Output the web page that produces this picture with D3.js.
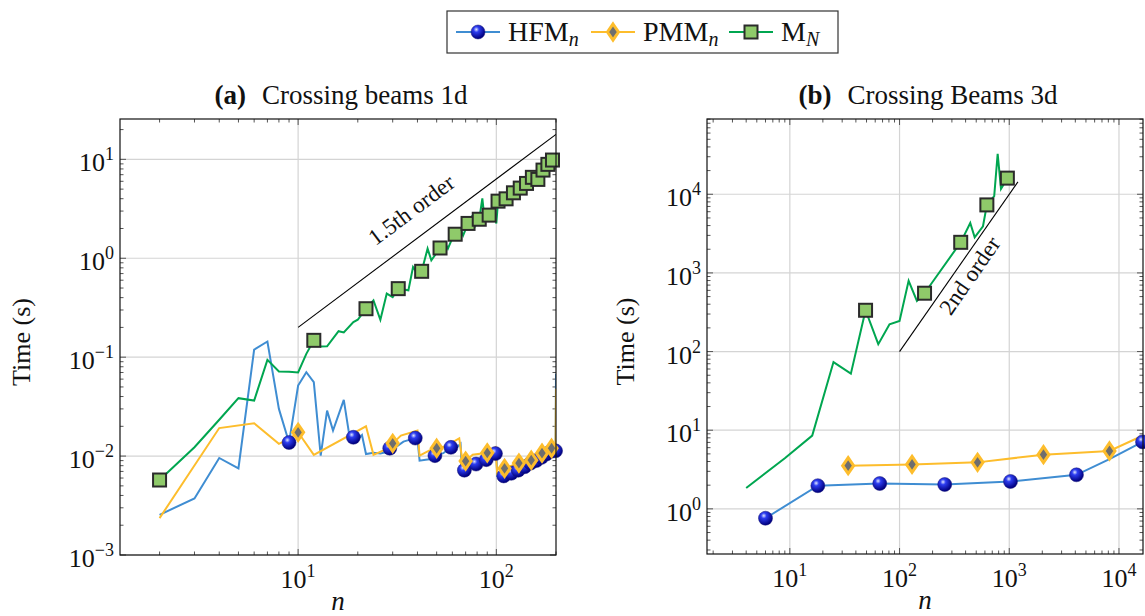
<!DOCTYPE html>
<html>
<head>
<meta charset="utf-8">
<script src="https://cdn.jsdelivr.net/npm/d3@7"></script>
<style>
body{margin:0;background:#fff;}
text{font-family:"Liberation Serif","DejaVu Serif",serif;fill:#111;}
</style>
</head>
<body>
<div id="chart"></div>
<script>
// panel (a): crossing beams 1d  [n, time in s]
var hfmA = [[2,0.00255],[3,0.00373],[4,0.00957],[5,0.0075],[6,0.119],[7,0.144],[8,0.030],[9,0.0137],
  [10,0.0516],[11,0.0705],[12,0.0558],[13,0.0101],[14,0.0288],[15,0.0181],[17,0.037],[18,0.0178],
  [19,0.0155],[20,0.0147],[21,0.0163],[22,0.0105],[24,0.0108],[26,0.0106],[28,0.0110],[29,0.0120],
  [31,0.0123],[34,0.0140],[36,0.0145],[39,0.0152],[40,0.0150],[41,0.0090],[44,0.0092],[46,0.0093],
  [49,0.0101],[54,0.0107],[59,0.01225],[62,0.0118],[66,0.0133],[67,0.0073],[69,0.0072],[79,0.0083],
  [89,0.0092],[99,0.0106],[100,0.0110],[101,0.0063],[109,0.0063],[119,0.0067],[129,0.0072],[139,0.0078],
  [149,0.0085],[159,0.0090],[169,0.0097],[179,0.0105],[189,0.0112],[199,0.0113],[200,0.068]];
var pmmA = [[2,0.00236],[4,0.0192],[6,0.0215],[8,0.0133],[9,0.0149],[10,0.0174],[12,0.0103],[22,0.020],
  [24,0.0103],[28,0.0118],[30,0.01345],[33,0.0161],[40,0.0181],[41,0.0101],[46,0.0114],[50,0.0120],
  [55,0.0125],[65,0.0151],[67,0.0098],[70,0.0089],[76,0.0103],[90,0.0108],[99,0.01225],[101,0.0066],
  [110,0.0075],[130,0.0085],[150,0.0091],[170,0.0107],[190,0.0120],[199,0.0124],[200,0.048]];
var mnA = [[2,0.00573],[3,0.0123],[4,0.0233],[5,0.0385],[6,0.0364],[7,0.094],[8,0.0716],[9,0.0714],
  [10,0.070],[11,0.108],[12,0.148],[13,0.128],[14,0.129],[16,0.183],[17,0.178],[19,0.226],[20,0.239],
  [22,0.309],[24,0.375],[26,0.239],[28,0.44],[30,0.405],[32,0.493],[36,0.474],[38,0.817],[40,0.70],
  [42,0.738],[45,1.25],[47,0.955],[52,1.27],[55,1.45],[57,1.25],[60,1.6],[62,1.75],[66,1.95],[68,1.7],
  [72,2.25],[75,2.6],[78,2.1],[82,2.48],[85,4.03],[87,2.6],[92,2.73],[96,3.4],[100,2.25],[102,3.78],
  [106,3.4],[112,3.99],[117,4.7],[122,4.59],[127,4.4],[132,5.12],[137,5.5],[142,5.71],[147,6.4],
  [152,6.58],[157,7.2],[162,6.27],[167,7.5],[172,7.79],[177,8.2],[182,8.9],[187,9.3],[192,9.84],[200,10.3]];
var orderA = [[10,0.2],[200,17.9]];

// panel (b): crossing beams 3d
var hfmB = [[6,0.76],[18,1.97],[66,2.1],[258,2.04],[1026,2.23],[4098,2.71],[8194,4.3],[16386,7.1]];
var pmmB = [[34,3.54],[130,3.67],[514,3.9],[2050,4.89],[8194,5.44],[16386,8.5]];
var mnB = [[4,1.84],[9,4.4],[16,8.53],[25,73.5],[36,52.3],[49,335],[64,124],[81,222],[100,245],
  [121,793],[144,441],[169,552],[361,2449],[441,4315],[484,2838],[576,3918],[625,7324],[729,9460],
  [784,32700],[841,11720],[961,16040]];
var orderB = [[100,100],[1200,14400]];

var xTicksA = [10,100], yTicksA = [1e-3,1e-2,1e-1,1,10];
var xTicksB = [10,100,1e3,1e4], yTicksB = [1,10,100,1e3,1e4];

var blue = '#3f8dd2', yellow = '#fdbd2c', green = '#00a650';

var svg = d3.select('#chart').append('svg')
  .attr('width',1145).attr('height',616);

var defs = svg.append('defs');
var grad = defs.append('radialGradient').attr('id','ball')
  .attr('cx','38%').attr('cy','32%').attr('r','65%');
grad.append('stop').attr('offset','0%').attr('stop-color','#dfe6ff');
grad.append('stop').attr('offset','30%').attr('stop-color','#2d3df0');
grad.append('stop').attr('offset','100%').attr('stop-color','#000080');

function sup(sel, exp){
  sel.append('tspan').text('10');
  sel.append('tspan').attr('dy',-11).attr('font-size',18).text(exp < 0 ? '\u2212' + (-exp) : exp);
}

function marker(g, kind, x, y){
  if (kind === 'ball') {
    g.append('circle').attr('cx',x).attr('cy',y).attr('r',7)
      .attr('fill','url(#ball)').attr('stroke','#1a1a7a').attr('stroke-width',0.5);
  } else if (kind === 'diamond') {
    g.append('path').attr('d','M'+x+','+(y-8)+'L'+(x+5.5)+','+y+'L'+x+','+(y+8)+'L'+(x-5.5)+','+y+'Z')
      .attr('fill','#6e6e6e').attr('stroke',yellow).attr('stroke-width',3);
  } else {
    g.append('rect').attr('x',x-6.5).attr('y',y-6.5).attr('width',13).attr('height',13)
      .attr('fill','#8fca6a').attr('stroke','#2b2b2b').attr('stroke-width',2);
  }
}

function minors(dom){
  var out = [];
  for (var e = Math.floor(Math.log10(dom[0])); e <= Math.ceil(Math.log10(dom[1])); e++)
    for (var k = 1; k < 10; k++) {
      var v = k * Math.pow(10,e);
      if (v >= dom[0] && v <= dom[1]) out.push(v);
    }
  return out;
}

function panel(p){
  var x = d3.scaleLog().domain(p.xdom).range([p.x0,p.x1]);
  var y = d3.scaleLog().domain(p.ydom).range([p.y1,p.y0]);
  var g = svg.append('g');
  defs.append('clipPath').attr('id','clip'+p.id).append('rect')
    .attr('x',p.x0).attr('y',p.y0).attr('width',p.x1-p.x0).attr('height',p.y1-p.y0);

  // grid
  g.selectAll('.gx').data(p.xt).enter().append('line')
    .attr('x1',d=>x(d)).attr('x2',d=>x(d)).attr('y1',p.y0).attr('y2',p.y1)
    .attr('stroke','#d4d4d4').attr('stroke-width',1.2);
  g.selectAll('.gy').data(p.yt).enter().append('line')
    .attr('y1',d=>y(d)).attr('y2',d=>y(d)).attr('x1',p.x0).attr('x2',p.x1)
    .attr('stroke','#d4d4d4').attr('stroke-width',1.2);

  // ticks on all four sides
  var tk = g.append('g').attr('stroke','#555').attr('stroke-width',1);
  minors(p.xdom).forEach(function(v){
    var len = p.xt.indexOf(v) >= 0 ? 6 : 3.5;
    tk.append('line').attr('x1',x(v)).attr('x2',x(v)).attr('y1',p.y1).attr('y2',p.y1-len);
    tk.append('line').attr('x1',x(v)).attr('x2',x(v)).attr('y1',p.y0).attr('y2',p.y0+len);
  });
  minors(p.ydom).forEach(function(v){
    var len = p.yt.indexOf(v) >= 0 ? 6 : 3.5;
    tk.append('line').attr('y1',y(v)).attr('y2',y(v)).attr('x1',p.x0).attr('x2',p.x0+len);
    tk.append('line').attr('y1',y(v)).attr('y2',y(v)).attr('x1',p.x1).attr('x2',p.x1-len);
  });

  var line = d3.line().x(d=>x(d[0])).y(d=>y(d[1]));
  var lines = g.append('g').attr('clip-path','url(#clip'+p.id+')').attr('fill','none');
  p.series.forEach(function(s){
    lines.append('path').attr('d',line(s.data)).attr('stroke',s.color).attr('stroke-width',2);
  });
  lines.append('path').attr('d',line(p.order)).attr('stroke','#000').attr('stroke-width',1.1);

  g.append('text').attr('transform','translate('+p.ordLab[0]+','+p.ordLab[1]+') rotate('+p.ordLab[2]+')')
    .attr('text-anchor','middle').attr('font-size',23).text(p.ordLab[3]);

  p.series.forEach(function(s){
    s.data.filter(s.mark).forEach(function(d){ marker(g, s.kind, x(d[0]), y(d[1])); });
  });

  g.append('rect').attr('x',p.x0).attr('y',p.y0).attr('width',p.x1-p.x0).attr('height',p.y1-p.y0)
    .attr('fill','none').attr('stroke','#111').attr('stroke-width',1.2);

  // tick labels
  p.xt.forEach(function(v){
    var t = g.append('text').attr('x',x(v)).attr('y',p.y1+33).attr('text-anchor','middle').attr('font-size',26);
    sup(t, Math.round(Math.log10(v)));
  });
  p.yt.forEach(function(v){
    var t = g.append('text').attr('x',p.x0-6).attr('y',y(v)+12).attr('text-anchor','end').attr('font-size',26);
    sup(t, Math.round(Math.log10(v)));
  });

  var cx = (p.x0+p.x1)/2;
  g.append('text').attr('x',cx).attr('y',p.y1+55).attr('text-anchor','middle')
    .attr('font-size',27).attr('font-style','italic').text('n');
  g.append('text').attr('transform','translate('+p.ylx+','+((p.y0+p.y1)/2+5)+') rotate(-90)')
    .attr('text-anchor','middle').attr('font-size',26).text('Time (s)');
  var tt = g.append('text').attr('x',cx+3).attr('y',104).attr('text-anchor','middle').attr('font-size',27);
  tt.append('tspan').attr('font-weight','bold').text(p.tag);
  tt.append('tspan').attr('dx',16).text(p.title);
}

panel({id:'a', x0:120, x1:556, y0:119, y1:555, xdom:[1.263,200], ydom:[1e-3,Math.pow(10,1.408)],
  xt:xTicksA, yt:yTicksA, order:orderA, ordLab:[416,216,-36.8,'1.5th order'], ylx:30,
  tag:'(a)', title:'Crossing beams 1d',
  series:[
    {data:hfmA, color:blue, kind:'ball', mark:d=>d[0]%10===9},
    {data:pmmA, color:yellow, kind:'diamond', mark:d=>d[0]%20===10},
    {data:mnA, color:green, kind:'square', mark:d=>d[0]%10===2}
  ]});

panel({id:'b', x0:707, x1:1143, y0:119, y1:554, xdom:[Math.pow(10,0.245),Math.pow(10,4.219)],
  ydom:[Math.pow(10,-0.574),Math.pow(10,4.957)],
  xt:xTicksB, yt:yTicksB, order:orderB, ordLab:[976,280,-55.2,'2nd order'], ylx:634,
  tag:'(b)', title:'Crossing Beams 3d',
  series:[
    {data:hfmB, color:blue, kind:'ball', mark:d=>d[0]!==8194},
    {data:pmmB, color:yellow, kind:'diamond', mark:d=>d[0]!==16386},
    {data:mnB, color:green, kind:'square', mark:d=>[49,169,361,625,961].indexOf(d[0])>=0}
  ]});

// legend
var leg = svg.append('g');
leg.append('rect').attr('x',447).attr('y',11).attr('width',391).attr('height',42)
  .attr('fill','#fff').attr('stroke','#333').attr('stroke-width',1.2);
var items = [
  {x:456, color:blue, kind:'ball', name:'HFM', sub:'n'},
  {x:591, color:yellow, kind:'diamond', name:'PMM', sub:'n'},
  {x:729, color:green, kind:'square', name:'M', sub:'N'}
];
items.forEach(function(it){
  leg.append('line').attr('x1',it.x).attr('x2',it.x+44).attr('y1',32).attr('y2',32)
    .attr('stroke',it.color).attr('stroke-width',2);
  marker(leg, it.kind, it.x+22, 32);
  var t = leg.append('text').attr('x',it.x+52).attr('y',41).attr('font-size',28);
  t.append('tspan').text(it.name);
  t.append('tspan').attr('dy',5).attr('font-size',20).attr('font-style','italic').text(it.sub);
});
</script>
</body>
</html>
